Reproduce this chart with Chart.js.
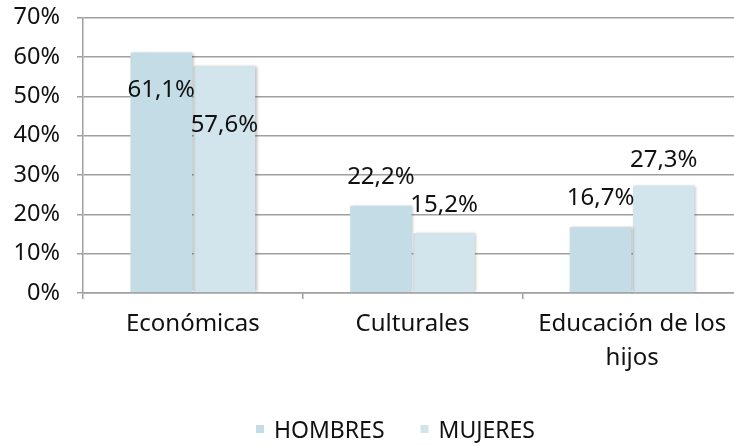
<!DOCTYPE html>
<html>
<head>
<meta charset="utf-8">
<script src="https://cdn.jsdelivr.net/npm/chart.js@4.4.1/dist/chart.umd.min.js"></script>
<style>
    html, body { margin: 0; padding: 0; background: #fff; overflow: hidden; }
    #wrap { width: 760px; height: 446px; }
</style>
</head>
<body>
<div id="wrap"><canvas id="chart" width="760" height="446"></canvas></div>
<script>
// Chart data
const categories = ['Económicas', 'Culturales', ['Educación de los', 'hijos']];
const seriesNames = ['HOMBRES', 'MUJERES'];
const hombres = [61.1, 22.2, 16.7];
const mujeres = [57.6, 15.2, 27.3];
const yTicks = [0, 10, 20, 30, 40, 50, 60, 70];
const colors = ['#c4dce5', '#d3e5ec'];

// Label vertical offsets from bar tops (px), as placed in the original
const labelDy = [[38, -28, -29], [59, -28, -25]];

const FONT = '"Noto Sans", "Open Sans", sans-serif';
const fmt = v => v.toFixed(1).replace('.', ',') + '%';

// Soft shadow behind bars
const barShadow = {
    id: 'barShadow',
    beforeDatasetsDraw(chart) {
        const ctx = chart.ctx;
        ctx.save();
        ctx.shadowColor = 'rgba(0,0,0,0.28)';
        ctx.shadowBlur = 3;
        ctx.shadowOffsetX = 1.5;
        ctx.shadowOffsetY = 0;
    },
    afterDatasetsDraw(chart) {
        chart.ctx.restore();
    }
};

// Value labels
const valueLabels = {
    id: 'valueLabels',
    afterDatasetsDraw(chart) {
        const ctx = chart.ctx;
        ctx.save();
        ctx.font = '24px ' + FONT;
        ctx.fillStyle = '#111';
        ctx.textAlign = 'center';
        ctx.textBaseline = 'middle';
        chart.data.datasets.forEach((ds, di) => {
            chart.getDatasetMeta(di).data.forEach((bar, i) => {
                ctx.fillText(fmt(ds.data[i]), bar.x, bar.y + labelDy[di][i]);
            });
        });
        ctx.restore();
    }
};

// Legend at the bottom, small square markers near the top of the text
const bottomLegend = {
    id: 'bottomLegend',
    afterDraw(chart) {
        const ctx = chart.ctx;
        const area = chart.chartArea;
        ctx.save();
        ctx.font = '23px ' + FONT;
        ctx.textBaseline = 'middle';
        const box = 8, gapText = 10, gapItem = 36;
        const widths = seriesNames.map(n => box + gapText + ctx.measureText(n).width);
        const total = widths.reduce((a, b) => a + b, 0) + gapItem * (seriesNames.length - 1);
        let x = (area.left + area.right) / 2 - 17 - total / 2;
        const y = chart.height - 15;
        seriesNames.forEach((n, i) => {
            ctx.fillStyle = colors[i];
            ctx.fillRect(x, y - 6, box, box);
            ctx.fillStyle = '#111';
            ctx.fillText(n, x + box + gapText, y);
            x += widths[i] + gapItem;
        });
        ctx.restore();
    }
};

new Chart(document.getElementById('chart'), {
    type: 'bar',
    data: {
        labels: categories,
        datasets: [
            { label: seriesNames[0], data: hombres, backgroundColor: colors[0], categoryPercentage: 0.575, barPercentage: 0.975 },
            { label: seriesNames[1], data: mujeres, backgroundColor: colors[1], categoryPercentage: 0.575, barPercentage: 0.975 }
        ]
    },
    options: {
        responsive: false,
        animation: false,
        layout: { padding: { top: 0, right: 18, left: 0, bottom: 0 } },
        plugins: {
            tooltip: { enabled: false },
            legend: { display: false }
        },
        scales: {
            y: {
                min: 0,
                max: 70,
                afterBuildTicks: axis => { axis.ticks = yTicks.map(v => ({ value: v })); },
                ticks: {
                    callback: v => v + '%',
                    font: { family: FONT, size: 23.5, lineHeight: 0.05 },
                    color: '#111',
                    padding: 17
                },
                grid: { color: '#a0a0a0', lineWidth: 1.5, tickLength: 6, tickColor: '#a0a0a0' },
                border: { color: '#a0a0a0', width: 1.5 },
                afterFit: s => { s.width = 83; }
            },
            x: {
                ticks: {
                    font: { family: FONT, size: 24, lineHeight: 1.42 },
                    color: '#111',
                    padding: 8
                },
                grid: { drawOnChartArea: false, color: '#a0a0a0', lineWidth: 1.5, tickLength: 6 },
                border: { color: '#a0a0a0', width: 1.5 },
                afterFit: s => { s.height = 153; }
            }
        }
    },
    plugins: [barShadow, valueLabels, bottomLegend]
});
</script>
</body>
</html>
